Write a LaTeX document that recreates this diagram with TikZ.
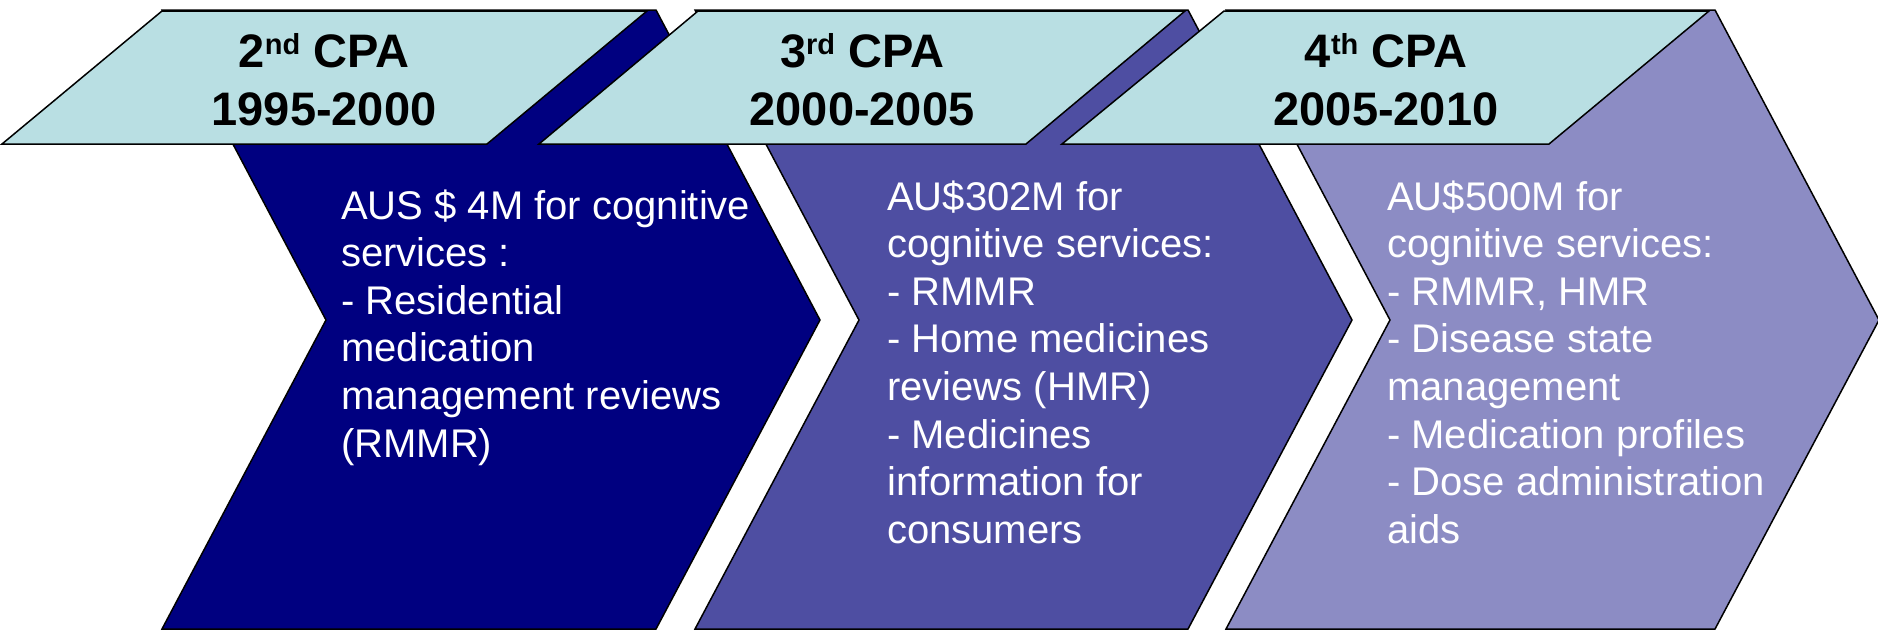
\documentclass[tikz,border=0pt]{standalone}
\usepackage{fontspec}
\setmainfont{Liberation Sans}
\definecolor{cpanavy}{RGB}{0,0,128}
\definecolor{cpamid}{RGB}{78,78,162}
\definecolor{cpalight}{RGB}{140,140,196}
\definecolor{cpaband}{RGB}{185,223,227}
\newcommand{\ordsup}[1]{\raisebox{12.5pt}{\fontsize{29}{29}\selectfont #1}}
\tikzset{
  chev/.style={draw=black, line width=1.5pt, line join=miter},
  band/.style={fill=cpaband, draw=black, line width=1.5pt, line join=miter},
  body/.style={anchor=base west, inner sep=0pt, text=white},
  ttl/.style={anchor=base, inner sep=0pt, text=black},
}
\newcommand{\bodytext}[1]{\parbox[t]{520pt}{\fontsize{40}{47.6}\selectfont\raggedright #1}}
\newcommand{\titletext}[1]{\parbox[t]{420pt}{\fontsize{47}{58}\selectfont\bfseries\centering #1}}
\begin{document}
\begin{tikzpicture}[x=1pt,y=-1pt]
\useasboundingbox (0,0) rectangle (1878,630);
% chevrons
\path[chev, fill=cpanavy]  (162,10) -- (656,10) -- (820,320) -- (656,629) -- (162,629) -- (326,320) -- cycle;
\path[chev, fill=cpamid]   (695,10) -- (1188,10) -- (1352,320) -- (1188,629) -- (695,629) -- (859,320) -- cycle;
\path[chev, fill=cpalight] (1226,10) -- (1715,10) -- (1879,320) -- (1715,629) -- (1226,629) -- (1390,320) -- cycle;
% header bands
\path[band] (162,11) -- (647,11) -- (487,144) -- (2,144) -- cycle;
\path[band] (698,11) -- (1185,11) -- (1026,144) -- (539,144) -- cycle;
\path[band] (1224,11) -- (1709,11) -- (1549,144) -- (1062,144) -- cycle;
% titles
\node[ttl] (t1) at (324,67) {\titletext{2\ordsup{nd} CPA\\1995-2000}};
\node[ttl] (t2) at (862,67) {\titletext{3\ordsup{rd} CPA\\2000-2005}};
\node[ttl] (t3) at (1386,67) {\titletext{4\ordsup{th} CPA\\2005-2010}};
% bodies
\node[body] (b1) at (341,219) {\bodytext{AUS \$ 4M for cognitive\\services :\\- Residential\\medication\\management reviews\\(RMMR)}};
\node[body] (b2) at (887,210) {\bodytext{AU\$302M for\\cognitive services:\\- RMMR\\- Home medicines\\reviews (HMR)\\- Medicines\\information for\\consumers}};
\node[body] (b3) at (1387,210) {\bodytext{AU\$500M for\\cognitive services:\\- RMMR, HMR\\- Disease state\\management\\- Medication profiles\\- Dose administration\\aids}};
\end{tikzpicture}
\end{document}
